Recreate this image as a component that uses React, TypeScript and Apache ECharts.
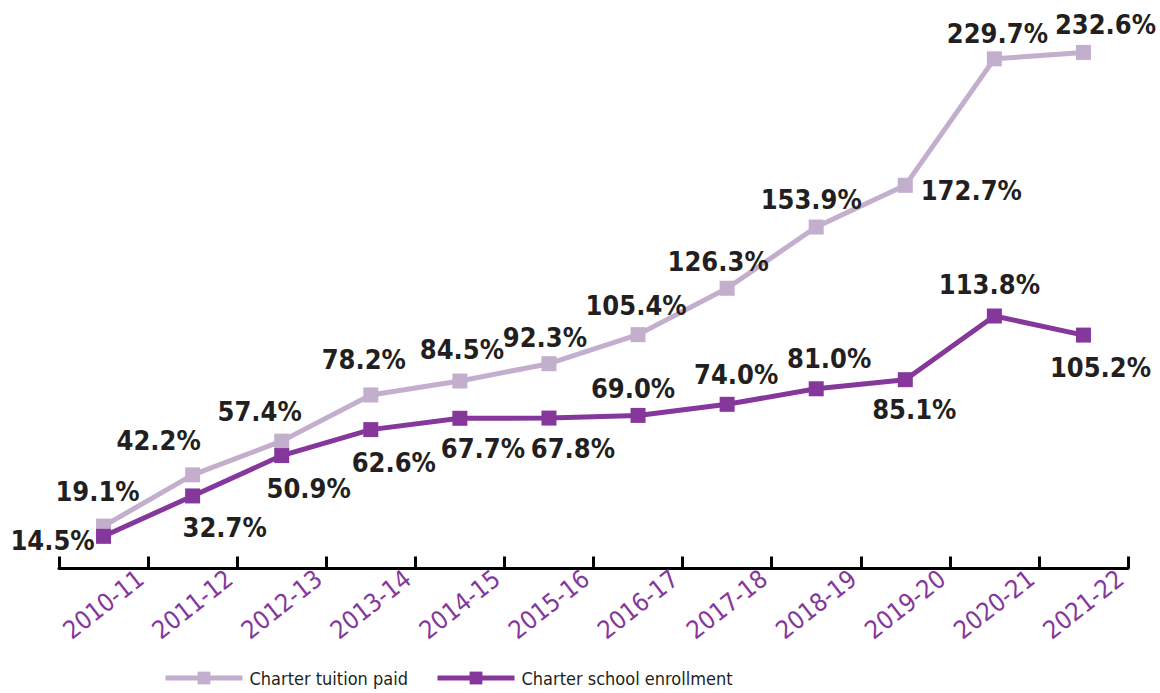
import React, { useEffect, useRef } from "react";
import * as echarts from "echarts";

const categories = [
  "2010-11", "2011-12", "2012-13", "2013-14", "2014-15", "2015-16",
  "2016-17", "2017-18", "2018-19", "2019-20", "2020-21", "2021-22",
];
const tuitionPaid = [19.1, 42.2, 57.4, 78.2, 84.5, 92.3, 105.4, 126.3, 153.9, 172.7, 229.7, 232.6];
const schoolEnrollment = [14.5, 32.7, 50.9, 62.6, 67.7, 67.8, 69.0, 74.0, 81.0, 85.1, 113.8, 105.2];

// label placement (pixel offsets of each value label from its point)
const tuitionLabelOffsets = [
  [-6, -35], [-34, -34], [-22, -30], [-7, -35], [2, -32], [-4, -26],
  [-2, -29], [-9, -27], [-5, -28], [66, 5], [3, -25], [22, -28],
];
const enrollmentLabelOffsets = [
  [-51, 4], [32, 32], [27, 33], [23, 33], [23, 30], [24, 30],
  [-5, -27], [9, -30], [13, -30], [9, 30], [-5, -32], [17, 32],
];

const LIGHT = "#C3AECE";
const DARK = "#85379B";
const TEXT = "#231F20";
const FONT = "'DejaVu Sans Condensed', 'DejaVu Sans', sans-serif";

function buildData(values: number[], offsets: number[][]) {
  return values.map((v, i) => ({
    value: v,
    label: { offset: offsets[i] },
  }));
}

export default function App() {
  const ref = useRef<HTMLDivElement>(null);
  useEffect(() => {
    if (!ref.current) return;
    const chart = echarts.init(ref.current, null, { renderer: "svg" });
    const labelBase = {
      show: true,
      position: "inside",
      formatter: (p: any) => `${Number(p.value).toFixed(1)}%`,
      fontFamily: FONT,
      fontWeight: "bold",
      fontSize: 27,
      color: TEXT,
    };
    const legendBase = {
      top: 669,
      itemWidth: 77,
      itemHeight: 16,
      padding: 0,
      lineStyle: { width: 5 },
      textStyle: { fontFamily: FONT, fontSize: 18, color: TEXT, padding: [0, 0, 0, 2] },
    };
    chart.setOption({
      animation: false,
      backgroundColor: "#ffffff",
      grid: { left: 59, right: 32, top: 36, bottom: 124.5, containLabel: false },
      xAxis: {
        type: "category",
        data: categories,
        boundaryGap: true,
        axisLine: { onZero: false, lineStyle: { color: "#000", width: 3 } },
        axisTick: { show: true, inside: true, length: 12, lineStyle: { color: "#000", width: 3 } },
        axisLabel: {
          rotate: 38,
          align: "center",
          verticalAlign: "middle",
          margin: 36,
          interval: 0,
          color: DARK,
          fontFamily: FONT,
          fontSize: 25,
        },
        splitLine: { show: false },
      },
      yAxis: {
        type: "value",
        min: 0,
        max: 240,
        show: false,
        splitLine: { show: false },
      },
      legend: [
        { ...legendBase, data: ["Charter tuition paid"], left: 163 },
        { ...legendBase, data: ["Charter school enrollment"], left: 435 },
      ],
      series: [
        {
          name: "Charter tuition paid",
          type: "line",
          data: buildData(tuitionPaid, tuitionLabelOffsets),
          symbol: "rect",
          symbolSize: 15,
          lineStyle: { color: LIGHT, width: 5 },
          itemStyle: { color: LIGHT },
          label: labelBase,
          z: 2,
        },
        {
          name: "Charter school enrollment",
          type: "line",
          data: buildData(schoolEnrollment, enrollmentLabelOffsets),
          symbol: "rect",
          symbolSize: 15,
          lineStyle: { color: DARK, width: 5 },
          itemStyle: { color: DARK },
          label: labelBase,
          z: 3,
        },
      ],
    });
    return () => chart.dispose();
  }, []);
  return (
    <div
      ref={ref}
      style={{ position: "absolute", left: 0, top: 0, width: 1160, height: 693 }}
    />
  );
}
